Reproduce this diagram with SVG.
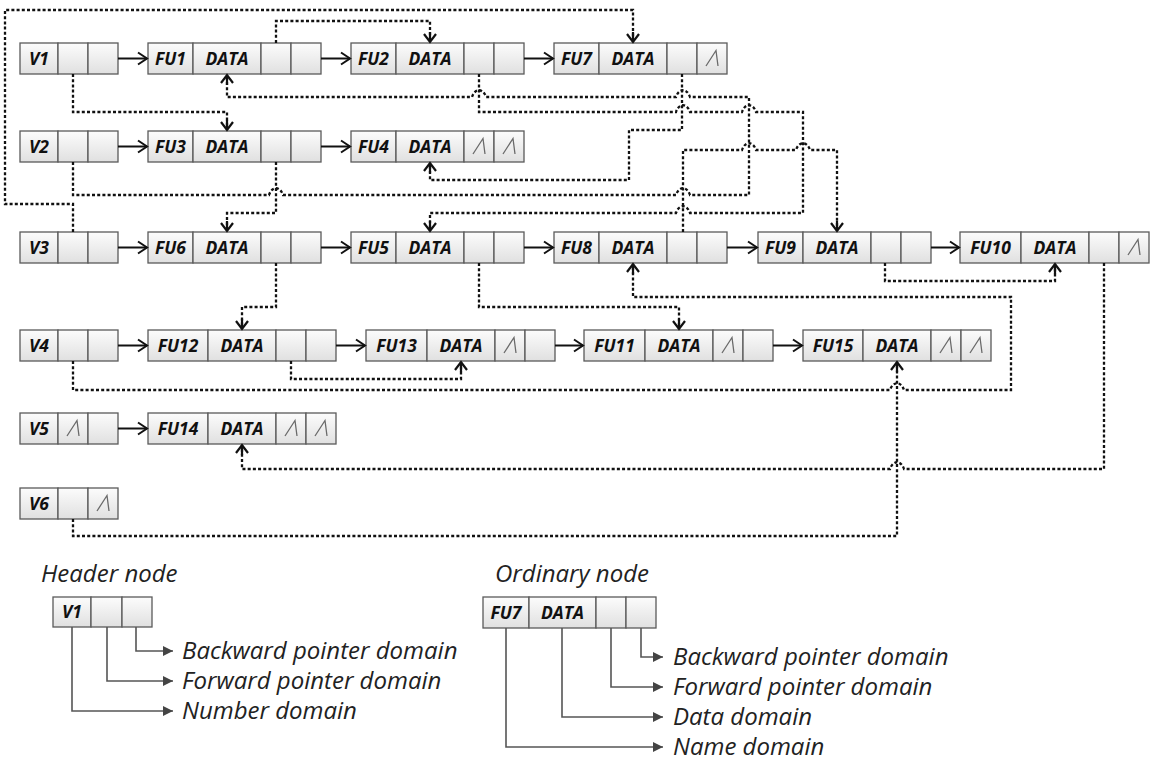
<svg xmlns="http://www.w3.org/2000/svg" xmlns:xlink="http://www.w3.org/1999/xlink" width="1156" height="760" viewBox="0 0 1156 760">
  <defs>
    <linearGradient id="cellFill" x1="0" y1="0" x2="0" y2="1">
      <stop offset="0" stop-color="#fcfcfc"/>
      <stop offset="1" stop-color="#e0e0e0"/>
    </linearGradient>
    <!-- open chevron for solid list links -->
    <marker id="arrowOpen" viewBox="-10 -7 12 14" refX="0" refY="0" markerWidth="12" markerHeight="14" markerUnits="userSpaceOnUse" orient="auto" overflow="visible">
      <path d="M-9,-6 L0,0 L-9,6" fill="none" stroke="#111" stroke-width="2" stroke-linejoin="miter"/>
    </marker>
    <!-- open chevron with short solid stem for dotted cross links -->
    <marker id="arrowDot" viewBox="-12 -7 14 14" refX="0" refY="0" markerWidth="14" markerHeight="14" markerUnits="userSpaceOnUse" orient="auto" overflow="visible">
      <path d="M-10,0 L0,0 M-8,-6 L0,0 L-8,6" fill="none" stroke="#111" stroke-width="2.2"/>
    </marker>
    <!-- filled triangle for legend callouts -->
    <marker id="arrowTri" viewBox="-10 -6 11 12" refX="0" refY="0" markerWidth="11" markerHeight="12" markerUnits="userSpaceOnUse" orient="auto" overflow="visible">
      <path d="M-10,-5 L0,0 L-10,5 Z" fill="#444"/>
    </marker>
    <!-- null pointer glyph -->
    <path id="nul" d="M-6,7.5 L4,-8 L6,7.5" fill="none" stroke="#6a6a6a" stroke-width="1.3"/>
  </defs>
  <style>
    .c { fill: url(#cellFill); stroke: #5a5a5a; stroke-width: 1.3; }
    .t { font-family: "Open Sans", "Liberation Sans", sans-serif; font-weight: 700; font-style: italic; font-size: 17.5px; fill: #111; text-anchor: middle; }
    .link { fill: none; stroke: #111; stroke-width: 2; marker-end: url(#arrowOpen); }
    .dot { fill: none; stroke: #111; stroke-width: 2.3; stroke-dasharray: 3 2.2; marker-end: url(#arrowDot); }
    .call { fill: none; stroke: #555; stroke-width: 1.6; marker-end: url(#arrowTri); }
    .lg { font-family: "Open Sans", "Liberation Sans", sans-serif; font-style: italic; font-size: 24px; fill: #222; }
  </style>
  <rect width="1156" height="760" fill="#ffffff"/>

  <!-- row 1 -->
  <g id="V1">
    <rect class="c" x="20" y="43" width="38" height="31"/><rect class="c" x="58" y="43" width="30" height="31"/><rect class="c" x="88" y="43" width="30" height="31"/>
    <text class="t" x="39" y="64.5">V1</text>
  </g>
  <g id="FU1">
    <rect class="c" x="148" y="43" width="45" height="31"/><rect class="c" x="193" y="43" width="68" height="31"/><rect class="c" x="261" y="43" width="30" height="31"/><rect class="c" x="291" y="43" width="30" height="31"/>
    <text class="t" x="170.5" y="64.5">FU1</text><text class="t" x="227" y="64.5">DATA</text>
  </g>
  <g id="FU2">
    <rect class="c" x="351" y="43" width="45" height="31"/><rect class="c" x="396" y="43" width="68" height="31"/><rect class="c" x="464" y="43" width="30" height="31"/><rect class="c" x="494" y="43" width="30" height="31"/>
    <text class="t" x="373.5" y="64.5">FU2</text><text class="t" x="430" y="64.5">DATA</text>
  </g>
  <g id="FU7">
    <rect class="c" x="554" y="43" width="45" height="31"/><rect class="c" x="599" y="43" width="68" height="31"/><rect class="c" x="667" y="43" width="30" height="31"/><rect class="c" x="697" y="43" width="30" height="31"/>
    <text class="t" x="576.5" y="64.5">FU7</text><text class="t" x="633" y="64.5">DATA</text>
    <use xlink:href="#nul" x="712" y="58.5"/>
  </g>

  <!-- row 2 -->
  <g id="V2">
    <rect class="c" x="20" y="131" width="38" height="31"/><rect class="c" x="58" y="131" width="30" height="31"/><rect class="c" x="88" y="131" width="30" height="31"/>
    <text class="t" x="39" y="152.5">V2</text>
  </g>
  <g id="FU3">
    <rect class="c" x="148" y="131" width="45" height="31"/><rect class="c" x="193" y="131" width="68" height="31"/><rect class="c" x="261" y="131" width="30" height="31"/><rect class="c" x="291" y="131" width="30" height="31"/>
    <text class="t" x="170.5" y="152.5">FU3</text><text class="t" x="227" y="152.5">DATA</text>
  </g>
  <g id="FU4">
    <rect class="c" x="351" y="131" width="45" height="31"/><rect class="c" x="396" y="131" width="68" height="31"/><rect class="c" x="464" y="131" width="30" height="31"/><rect class="c" x="494" y="131" width="30" height="31"/>
    <text class="t" x="373.5" y="152.5">FU4</text><text class="t" x="430" y="152.5">DATA</text>
    <use xlink:href="#nul" x="479" y="146.5"/><use xlink:href="#nul" x="509" y="146.5"/>
  </g>

  <!-- row 3 -->
  <g id="V3">
    <rect class="c" x="20" y="232" width="38" height="31"/><rect class="c" x="58" y="232" width="30" height="31"/><rect class="c" x="88" y="232" width="30" height="31"/>
    <text class="t" x="39" y="253.5">V3</text>
  </g>
  <g id="FU6">
    <rect class="c" x="148" y="232" width="45" height="31"/><rect class="c" x="193" y="232" width="68" height="31"/><rect class="c" x="261" y="232" width="30" height="31"/><rect class="c" x="291" y="232" width="30" height="31"/>
    <text class="t" x="170.5" y="253.5">FU6</text><text class="t" x="227" y="253.5">DATA</text>
  </g>
  <g id="FU5">
    <rect class="c" x="351" y="232" width="45" height="31"/><rect class="c" x="396" y="232" width="68" height="31"/><rect class="c" x="464" y="232" width="30" height="31"/><rect class="c" x="494" y="232" width="30" height="31"/>
    <text class="t" x="373.5" y="253.5">FU5</text><text class="t" x="430" y="253.5">DATA</text>
  </g>
  <g id="FU8">
    <rect class="c" x="554" y="232" width="45" height="31"/><rect class="c" x="599" y="232" width="68" height="31"/><rect class="c" x="667" y="232" width="30" height="31"/><rect class="c" x="697" y="232" width="30" height="31"/>
    <text class="t" x="576.5" y="253.5">FU8</text><text class="t" x="633" y="253.5">DATA</text>
  </g>
  <g id="FU9">
    <rect class="c" x="758" y="232" width="45" height="31"/><rect class="c" x="803" y="232" width="68" height="31"/><rect class="c" x="871" y="232" width="30" height="31"/><rect class="c" x="901" y="232" width="30" height="31"/>
    <text class="t" x="780.5" y="253.5">FU9</text><text class="t" x="837" y="253.5">DATA</text>
  </g>
  <g id="FU10">
    <rect class="c" x="960" y="232" width="61" height="31"/><rect class="c" x="1021" y="232" width="68" height="31"/><rect class="c" x="1089" y="232" width="30" height="31"/><rect class="c" x="1119" y="232" width="30" height="31"/>
    <text class="t" x="990.5" y="253.5">FU10</text><text class="t" x="1055" y="253.5">DATA</text>
    <use xlink:href="#nul" x="1134" y="247.5"/>
  </g>

  <!-- row 4 -->
  <g id="V4">
    <rect class="c" x="20" y="330" width="38" height="31"/><rect class="c" x="58" y="330" width="30" height="31"/><rect class="c" x="88" y="330" width="30" height="31"/>
    <text class="t" x="39" y="351.5">V4</text>
  </g>
  <g id="FU12">
    <rect class="c" x="148" y="330" width="60" height="31"/><rect class="c" x="208" y="330" width="68" height="31"/><rect class="c" x="276" y="330" width="30" height="31"/><rect class="c" x="306" y="330" width="30" height="31"/>
    <text class="t" x="178" y="351.5">FU12</text><text class="t" x="242" y="351.5">DATA</text>
  </g>
  <g id="FU13">
    <rect class="c" x="366" y="330" width="61" height="31"/><rect class="c" x="427" y="330" width="68" height="31"/><rect class="c" x="495" y="330" width="30" height="31"/><rect class="c" x="525" y="330" width="30" height="31"/>
    <text class="t" x="396.5" y="351.5">FU13</text><text class="t" x="461" y="351.5">DATA</text>
    <use xlink:href="#nul" x="510" y="345.5"/>
  </g>
  <g id="FU11">
    <rect class="c" x="584" y="330" width="61" height="31"/><rect class="c" x="645" y="330" width="68" height="31"/><rect class="c" x="713" y="330" width="30" height="31"/><rect class="c" x="743" y="330" width="30" height="31"/>
    <text class="t" x="614.5" y="351.5">FU11</text><text class="t" x="679" y="351.5">DATA</text>
    <use xlink:href="#nul" x="728" y="345.5"/>
  </g>
  <g id="FU15">
    <rect class="c" x="803" y="330" width="60" height="31"/><rect class="c" x="863" y="330" width="68" height="31"/><rect class="c" x="931" y="330" width="30" height="31"/><rect class="c" x="961" y="330" width="30" height="31"/>
    <text class="t" x="833" y="351.5">FU15</text><text class="t" x="897" y="351.5">DATA</text>
    <use xlink:href="#nul" x="946" y="345.5"/><use xlink:href="#nul" x="976" y="345.5"/>
  </g>

  <!-- row 5 -->
  <g id="V5">
    <rect class="c" x="20" y="413" width="38" height="31"/><rect class="c" x="58" y="413" width="30" height="31"/><rect class="c" x="88" y="413" width="30" height="31"/>
    <text class="t" x="39" y="434.5">V5</text>
    <use xlink:href="#nul" x="73" y="428.5"/>
  </g>
  <g id="FU14">
    <rect class="c" x="148" y="413" width="60" height="31"/><rect class="c" x="208" y="413" width="68" height="31"/><rect class="c" x="276" y="413" width="30" height="31"/><rect class="c" x="306" y="413" width="30" height="31"/>
    <text class="t" x="178" y="434.5">FU14</text><text class="t" x="242" y="434.5">DATA</text>
    <use xlink:href="#nul" x="291" y="428.5"/><use xlink:href="#nul" x="321" y="428.5"/>
  </g>

  <!-- row 6 -->
  <g id="V6">
    <rect class="c" x="20" y="488" width="38" height="31"/><rect class="c" x="58" y="488" width="30" height="31"/><rect class="c" x="88" y="488" width="30" height="31"/>
    <text class="t" x="39" y="509.5">V6</text>
    <use xlink:href="#nul" x="103" y="503.5"/>
  </g>

  <!-- list links (solid) and cross links (dotted, with line hops) -->
  <g id="connectors">
    <path class="link" d="M118,58.5 H147"/>
    <path class="link" d="M321,58.5 H350"/>
    <path class="link" d="M524,58.5 H553"/>
    <path class="link" d="M118,146.5 H147"/>
    <path class="link" d="M321,146.5 H350"/>
    <path class="link" d="M118,247.5 H147"/>
    <path class="link" d="M321,247.5 H350"/>
    <path class="link" d="M524,247.5 H553"/>
    <path class="link" d="M727,247.5 H757"/>
    <path class="link" d="M931,247.5 H959"/>
    <path class="link" d="M118,345.5 H147"/>
    <path class="link" d="M336,345.5 H365"/>
    <path class="link" d="M555,345.5 H583"/>
    <path class="link" d="M773,345.5 H802"/>
    <path class="link" d="M118,428.5 H147"/>

    <!-- V1 -> FU3 -->
    <path class="dot" d="M73,74 V112 H227 V130"/>
    <!-- V2 -> FU1 -->
    <path class="dot" d="M73,162 V195 H269 C272,186 280,186 283,195 H676 C679,186 687,186 690,195 H749 V97 H690 C687,88 679,88 676,97 H486 C483,88 475,88 472,97 H227 V75"/>
    <!-- V3 -> FU7 -->
    <path class="dot" d="M73,232 V204 H5 V10 H633 V42"/>
    <!-- FU1 -> FU2 -->
    <path class="dot" d="M276,43 V21 H430 V42"/>
    <!-- FU2 -> FU5 -->
    <path class="dot" d="M479,74 V112 H676 C679,103 687,103 690,112 H742 C745,103 753,103 756,112 H803 V213 H690 C687,204 679,204 676,213 H430 V231"/>
    <!-- FU7 -> FU4 -->
    <path class="dot" d="M682,74 V130 H629 V180 H430 V163"/>
    <!-- FU3 -> FU6 -->
    <path class="dot" d="M276,162 V213 H227 V231"/>
    <!-- FU8 -> FU9 -->
    <path class="dot" d="M683,232 V150 H742 C745,141 753,141 756,150 H796 C799,141 807,141 810,150 H837 V231"/>
    <!-- FU6 -> FU12 -->
    <path class="dot" d="M276,263 V307 H242 V329"/>
    <!-- FU5 -> FU11 -->
    <path class="dot" d="M479,263 V307 H679 V329"/>
    <!-- FU9 -> FU10 -->
    <path class="dot" d="M885,263 V281 H1055 V264"/>
    <!-- V4 -> FU8 -->
    <path class="dot" d="M73,361 V390 H890 C893,381 901,381 904,390 H1011 V297 H633 V264"/>
    <!-- FU12 -> FU13 -->
    <path class="dot" d="M291,361 V379 H461 V362"/>
    <!-- FU10 -> FU14 -->
    <path class="dot" d="M1104,263 V469 H904 C901,460 893,460 890,469 H242 V445"/>
    <!-- V6 -> FU15 -->
    <path class="dot" d="M73,519 V536 H897 V362"/>
  </g>

  <!-- legend: header node -->
  <g id="legend-header">
    <text class="lg" x="41" y="582">Header node</text>
    <rect class="c" x="53" y="597" width="38" height="30"/><rect class="c" x="91" y="597" width="31" height="30"/><rect class="c" x="122" y="597" width="30" height="30"/>
    <text class="t" x="72" y="618">V1</text>
    <path class="call" d="M136,627 V651 H173"/>
    <path class="call" d="M107,627 V681 H173"/>
    <path class="call" d="M72,627 V711 H173"/>
    <text class="lg" x="182" y="659">Backward pointer domain</text>
    <text class="lg" x="182" y="689">Forward pointer domain</text>
    <text class="lg" x="182" y="719">Number domain</text>
  </g>

  <!-- legend: ordinary node -->
  <g id="legend-ordinary">
    <text class="lg" x="495" y="582">Ordinary node</text>
    <rect class="c" x="483" y="597" width="46" height="31"/><rect class="c" x="529" y="597" width="67" height="31"/><rect class="c" x="596" y="597" width="30" height="31"/><rect class="c" x="626" y="597" width="30" height="31"/>
    <text class="t" x="506" y="618.5">FU7</text><text class="t" x="562.5" y="618.5">DATA</text>
    <path class="call" d="M641,628 V657 H663"/>
    <path class="call" d="M611,628 V687 H663"/>
    <path class="call" d="M562,628 V717 H663"/>
    <path class="call" d="M506,628 V747 H663"/>
    <text class="lg" x="673" y="665">Backward pointer domain</text>
    <text class="lg" x="673" y="695">Forward pointer domain</text>
    <text class="lg" x="673" y="725">Data domain</text>
    <text class="lg" x="673" y="755">Name domain</text>
  </g>
</svg>
